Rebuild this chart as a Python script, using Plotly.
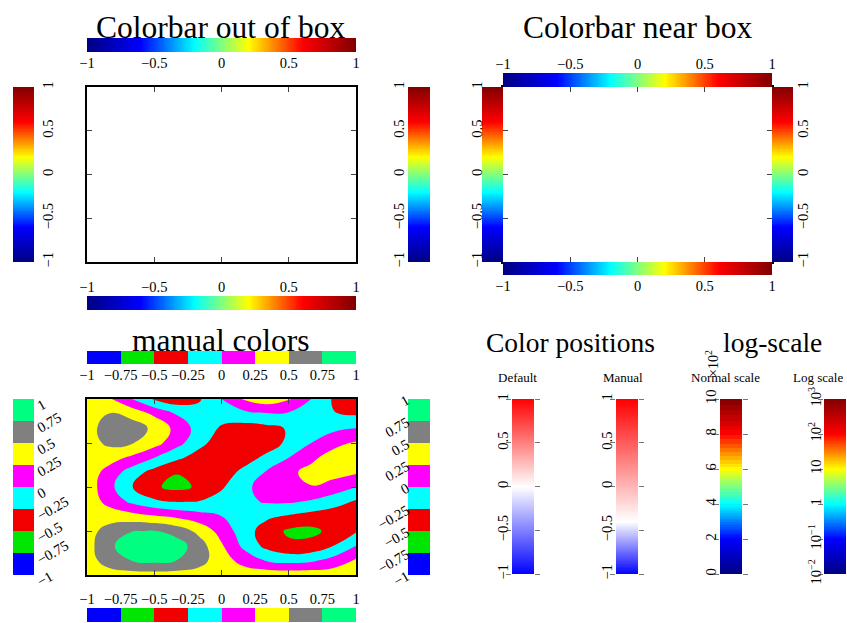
import numpy as np
import plotly.graph_objects as go

W, H = 847, 623
FONT = "Liberation Serif"
M = "\u2212"

# ---------------- data ----------------
jet_tick_vals = [-1, -0.5, 0, 0.5, 1]
jet_tick_text = [M + "1", M + "0.5", "0", "0.5", "1"]
jet_colors = ["#000080", "#0000ff", "#00ffff", "#ffff00", "#ff0000", "#800000"]

level_edges = [-1, -0.75, -0.5, -0.25, 0, 0.25, 0.5, 0.75, 1]
level_text = [M + "1", M + "0.75", M + "0.5", M + "0.25", "0", "0.25", "0.5", "0.75", "1"]
level_colors = ["#0000ff", "#00e600", "#f20000", "#00ffff", "#ff00ff", "#ffff00", "#808080", "#00ff80"]

map_x = [-1, -0.833, -0.667, -0.5, -0.333, -0.167, 0, 0.167, 0.333, 0.5, 0.667, 0.833, 1]
map_y = [-1, -0.833, -0.667, -0.5, -0.333, -0.167, 0, 0.167, 0.333, 0.5, 0.667, 0.833, 1]
map_z = [
    [0.40, 0.40, 0.40, 0.40, 0.40, 0.40, 0.40, 0.40, 0.40, 0.40, 0.40, 0.40, 0.40],
    [0.40, 0.61, 0.76, 0.82, 0.75, 0.59, 0.37, 0.15, -0.02, -0.09, -0.05, 0.09, 0.28],
    [0.40, 0.70, 0.91, 0.97, 0.87, 0.62, 0.28, -0.06, -0.32, -0.45, -0.42, -0.25, 0.00],
    [0.40, 0.60, 0.74, 0.76, 0.65, 0.43, 0.15, -0.13, -0.37, -0.54, -0.56, -0.43, -0.28],
    [0.40, 0.39, 0.35, 0.28, 0.20, 0.10, 0.00, -0.10, -0.20, -0.28, -0.35, -0.39, -0.40],
    [0.40, 0.17, -0.05, -0.20, -0.26, -0.24, -0.15, -0.05, 0.02, 0.03, -0.03, -0.15, -0.28],
    [0.40, 0.07, -0.24, -0.47, -0.56, -0.47, -0.28, -0.07, 0.12, 0.23, 0.24, 0.15, 0.00],
    [0.40, 0.15, -0.12, -0.35, -0.49, -0.48, -0.37, -0.19, 0.02, 0.20, 0.32, 0.34, 0.28],
    [0.40, 0.35, 0.20, 0.00, -0.20, -0.35, -0.40, -0.35, -0.20, 0.00, 0.20, 0.35, 0.40],
    [0.40, 0.55, 0.52, 0.35, 0.09, -0.18, -0.37, -0.43, -0.37, -0.20, 0.00, 0.18, 0.28],
    [0.40, 0.62, 0.62, 0.45, 0.17, -0.10, -0.28, -0.35, -0.32, -0.23, -0.13, -0.06, 0.00],
    [0.40, 0.51, 0.42, 0.20, -0.02, -0.15, -0.15, -0.08, -0.02, -0.03, -0.12, -0.24, -0.28],
    [0.40, 0.28, 0.00, -0.28, -0.40, -0.28, 0.00, 0.28, 0.40, 0.28, 0.00, -0.28, -0.40],
]

pos_tick_vals = [-1, -0.5, 0, 0.5, 1]
pos_tick_text = [M + "1", M + "0.5", "0", "0.5", "1"]
default_stops = [0, 0.5, 1]
manual_stops = [0, 0.3, 1]
bwr_colors = ["#0000ff", "#ffffff", "#ff0000"]

c_min, c_max = 0.01, 1000
normal_tick_vals = [0, 200, 400, 600, 800, 1000]
normal_tick_text = ["0", "2", "4", "6", "8", "10"]
log_tick_vals = [-2, -1, 0, 1, 2, 3]
log_tick_text = ["10<sup>" + M + "2</sup>", "10<sup>" + M + "1</sup>", "1", "10", "10<sup>2</sup>", "10<sup>3</sup>"]

titles = [("Colorbar out of box", 221, 27, 31.5), ("Colorbar near box", 637, 27, 31.5),
          ("manual colors", 221, 340, 31.5), ("Color positions", 570, 342, 27.5),
          ("log-scale", 772, 342, 27.5)]
subtitles = [("Default", 517, 377), ("Manual", 623, 377), ("Normal scale", 725, 377), ("Log scale", 818, 377)]

# ---------------- helpers ----------------
jet = [[i / (len(jet_colors) - 1), c] for i, c in enumerate(jet_colors)]
lev_scale = [[i / (len(level_colors) - 1), c] for i, c in enumerate(level_colors)]

fig = go.Figure()
axes = {}
cnt = [0]
TF = dict(family=FONT, size=14.5, color="black")


def add_axes(x0, x1, y0, y1, xa, ya):
    cnt[0] += 1
    s = "" if cnt[0] == 1 else str(cnt[0])
    base = dict(showgrid=False, zeroline=False, fixedrange=True, tickfont=TF, automargin=False)
    axes["xaxis" + s] = dict(base, domain=[x0 / W, x1 / W], anchor="y" + s, **xa)
    axes["yaxis" + s] = dict(base, domain=[1 - y1 / H, 1 - y0 / H], anchor="x" + s, **ya)
    return "x" + s, "y" + s


HIDE = dict(visible=False)
ramp = np.linspace(-1, 1, 301)


def hbar(x0, x1, y0, y1, side, scale=jet, zr=(-1, 1), tv=jet_tick_vals, tt=jet_tick_text,
         discrete=False, angle=0):
    xa = dict(range=[-1, 1], side=side, tickvals=tv, ticktext=tt, ticks="", tickangle=angle,
              showline=False)
    xr, yr = add_axes(x0, x1, y0, y1, xa, dict(HIDE, range=[-0.5, 0.5]))
    if discrete:
        fig.add_trace(go.Heatmap(x=level_edges, y=[0], z=[list(range(len(level_colors)))],
                                 colorscale=scale, zmin=0, zmax=len(level_colors) - 1,
                                 showscale=False, hoverinfo="skip", xaxis=xr, yaxis=yr))
    else:
        fig.add_trace(go.Heatmap(x=ramp, y=[0], z=[ramp], colorscale=scale, zmin=zr[0], zmax=zr[1],
                                 showscale=False, hoverinfo="skip", xaxis=xr, yaxis=yr))


def vbar(x0, x1, y0, y1, side, scale=jet, tv=jet_tick_vals, tt=jet_tick_text, discrete=False,
         angle=-90, yrange=(-1, 1), ticks="", y=None, z=None, zr=(-1, 1), standoff=0, shift=0):
    ya = dict(range=list(yrange), side=side, tickvals=tv, ticktext=tt, tickangle=angle,
              showline=False, ticks=ticks, ticklabelstandoff=standoff, ticklabelshift=shift)
    if ticks:
        ya.update(ticklen=5, tickcolor="#777", tickwidth=1, mirror="ticks")
    xr, yr = add_axes(x0, x1, y0, y1, dict(HIDE, range=[-0.5, 0.5]), ya)
    if discrete:
        fig.add_trace(go.Heatmap(x=[0], y=level_edges, z=[[i] for i in range(len(level_colors))],
                                 colorscale=scale, zmin=0, zmax=len(level_colors) - 1,
                                 showscale=False, hoverinfo="skip", xaxis=xr, yaxis=yr))
    else:
        yy = ramp if y is None else y
        zz = ramp if z is None else z
        fig.add_trace(go.Heatmap(x=[0], y=yy, z=[[v] for v in zz], colorscale=scale,
                                 zmin=zr[0], zmax=zr[1], showscale=False, hoverinfo="skip",
                                 xaxis=xr, yaxis=yr))


BOX = dict(range=[-1, 1], showline=True, linecolor="black", linewidth=1.5, mirror="allticks",
           ticks="inside", ticklen=5, tickcolor="#444", tickvals=[-0.5, 0, 0.5],
           showticklabels=False)


def box(x0, x1, y0, y1):
    xr, yr = add_axes(x0, x1, y0, y1, dict(BOX), dict(BOX))
    fig.add_trace(go.Scatter(x=[None], y=[None], xaxis=xr, yaxis=yr, showlegend=False))
    return xr, yr


# ---------------- panel 1: colorbar out of box ----------------
box(87, 356, 87, 262)
hbar(87, 356, 38, 52, "bottom")
hbar(87, 356, 296, 310, "top")
vbar(13, 34, 87, 262, "right", standoff=3)
vbar(408, 430, 87, 262, "left")

# ---------------- panel 2: colorbar near box ----------------
box(503, 772, 87, 262)
hbar(503, 772, 73, 87, "top")
hbar(503, 772, 262, 275, "bottom")
vbar(482, 503, 87, 262, "left", standoff=-4)
vbar(772, 793, 87, 262, "right", standoff=-1)

# ---------------- panel 3: manual colors ----------------
xr, yr = add_axes(87, 356, 399, 575, dict(BOX), dict(BOX))
fig.add_trace(go.Contour(x=map_x, y=map_y, z=map_z, colorscale=lev_scale, autocontour=False,
                         contours=dict(start=level_edges[1], end=level_edges[-2],
                                       size=level_edges[1] - level_edges[0], coloring="fill",
                                       showlines=False),
                         line=dict(width=0, smoothing=1.3), showscale=False, hoverinfo="skip",
                         xaxis=xr, yaxis=yr))
hbar(87, 356, 351, 364, "bottom", scale=lev_scale, tv=level_edges, tt=level_text, discrete=True)
hbar(87, 356, 608, 622, "top", scale=lev_scale, tv=level_edges, tt=level_text, discrete=True)
vbar(13, 34, 399, 575, "right", scale=lev_scale, tv=level_edges, tt=level_text, discrete=True,
     angle=-30, standoff=2, shift=8)
vbar(408, 430, 399, 575, "left", scale=lev_scale, tv=level_edges, tt=level_text, discrete=True,
     angle=-30)

# ---------------- panel 4: color positions / log-scale ----------------
vbar(512, 534, 399, 574, "left", scale=[[s, c] for s, c in zip(default_stops, bwr_colors)],
     tv=pos_tick_vals, tt=pos_tick_text, ticks="outside", standoff=-8)
vbar(616, 638, 399, 574, "left", scale=[[s, c] for s, c in zip(manual_stops, bwr_colors)],
     tv=pos_tick_vals, tt=pos_tick_text, ticks="outside", standoff=-8)
edges = np.geomspace(c_min, c_max, 351)
vbar(720, 742, 399, 574, "left", tv=normal_tick_vals, tt=normal_tick_text, ticks="outside",
     yrange=(0, c_max), y=edges, z=np.sqrt(edges[:-1] * edges[1:]), zr=(c_min, c_max),
     standoff=-8)
lramp = np.linspace(np.log10(c_min), np.log10(c_max), 301)
vbar(824, 846, 399, 574, "left", tv=log_tick_vals, tt=log_tick_text, ticks="outside",
     yrange=(np.log10(c_min), np.log10(c_max)), y=lramp, z=lramp,
     zr=(np.log10(c_min), np.log10(c_max)), standoff=-9)

# ---------------- text ----------------
ann = []
for t, x, y, s in titles:
    ann.append(dict(text=t, x=x / W, y=1 - y / H, xref="paper", yref="paper", showarrow=False,
                    xanchor="center", yanchor="middle", font=dict(family=FONT, size=s, color="black")))
for t, x, y in subtitles:
    ann.append(dict(text=t, x=x / W, y=1 - y / H, xref="paper", yref="paper", showarrow=False,
                    xanchor="center", yanchor="middle", font=dict(family=FONT, size=13, color="black")))
ann.append(dict(text="\u00d710<sup>2</sup>", x=712 / W, y=1 - 364 / H, xref="paper", yref="paper",
                showarrow=False, textangle=-90, xanchor="center", yanchor="middle",
                font=dict(family=FONT, size=14, color="black")))

fig.update_layout(width=W, height=H, margin=dict(l=0, r=0, t=0, b=0, pad=0, autoexpand=False),
                  paper_bgcolor="white", plot_bgcolor="white", showlegend=False,
                  annotations=ann, **axes)
fig.write_html("out.html", config={"displayModeBar": False},
               post_script="document.body.style.margin='0px';")
